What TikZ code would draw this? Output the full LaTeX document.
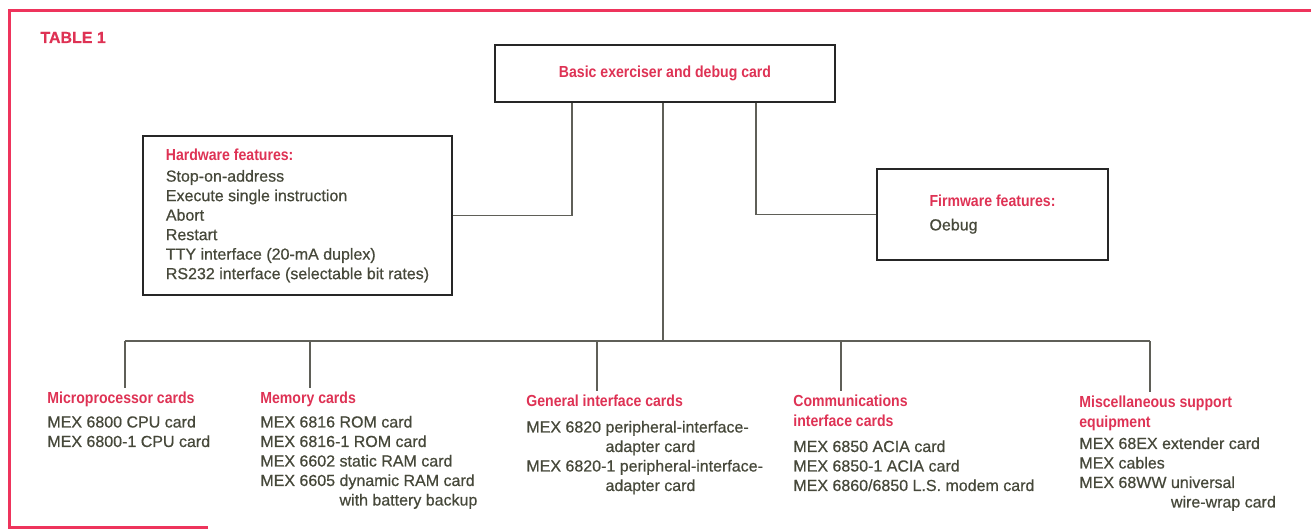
\documentclass[tikz,border=0pt]{standalone}
\usepackage{fontspec}
\usepackage{tikz}
\setmainfont{Liberation Sans}[FakeBold=0.6]
\newfontfamily\headfont[FakeStretch=0.88]{Liberation Sans}
\definecolor{framered}{RGB}{238,52,92}
\definecolor{headred}{RGB}{222,50,84}
\definecolor{inkgrey}{RGB}{70,72,58}
\definecolor{wiregrey}{RGB}{95,95,88}
\newcommand{\grouptitle}[1]{{\headfont\bfseries\color{headred}#1}}

\begin{document}
\begin{tikzpicture}[x=0.5pt,y=-0.5pt,
  every node/.style={font=\fontsize{8}{9.75}\selectfont,text=inkgrey,inner sep=0pt},
  featbox/.style={draw=black!85,line width=1pt,align=left},
  cardgroup/.style={anchor=north west,align=left},
  wire/.style={draw=wiregrey,line width=0.7pt}]
  \useasboundingbox (0,0) rectangle (1311,529);
  \draw[framered,line width=1.5pt] (208,527) -- (9,527) -- (9,11) -- (1311,11);
  \node[anchor=base west] (tbl) at (40,43) {\bfseries\color{headred}TABLE 1};

  \node[featbox,minimum width=170pt,minimum height=28.5pt] (top) at (665,73.5)
    {\grouptitle{Basic exerciser and debug card}};
  \node[featbox,minimum width=154.5pt,minimum height=79.5pt] (hw) at (297.5,215.5)
    {\grouptitle{Hardware features:}\\[1pt]
     Stop-on-address\\Execute single instruction\\Abort\\Restart\\
     TTY interface (20-mA duplex)\\RS232 interface (selectable bit rates)};
  \node[featbox,minimum width=115.5pt,minimum height=45.5pt] (fw) at (992.5,214.5)
    {\grouptitle{Firmware features:}\\[2pt]Oebug};

  \node[cardgroup] (micro) at (47,392)
    {\grouptitle{Microprocessor cards}\\[2pt]
     MEX 6800 CPU card\\MEX 6800-1 CPU card};
  \node[cardgroup] (mem) at (260,392)
    {\grouptitle{Memory cards}\\[2pt]
     MEX 6816 ROM card\\MEX 6816-1 ROM card\\MEX 6602 static RAM card\\
     MEX 6605 dynamic RAM card\\\hphantom{MEX 6605 }with battery backup};
  \node[cardgroup] (gen) at (526,395)
    {\grouptitle{General interface cards}\\[3pt]
     MEX 6820 peripheral-interface-\\\hphantom{MEX 6820 }adapter card\\
     MEX 6820-1 peripheral-interface-\\\hphantom{MEX 6820 }adapter card};
  \node[cardgroup] (comm) at (793,395)
    {\grouptitle{Communications}\\\grouptitle{interface cards}\\[3pt]
     MEX 6850 ACIA card\\MEX 6850-1 ACIA card\\MEX 6860/6850 L.S. modem card};
  \node[cardgroup] (misc) at (1079,396)
    {\grouptitle{Miscellaneous support}\\\grouptitle{equipment}\\[1pt]
     MEX 68EX extender card\\MEX cables\\MEX 68WW universal\\
     \hphantom{MEX 68WW }wire-wrap card};

  \coordinate (hwtap) at (572,0);
  \coordinate (fwtap) at (756,0);
  \coordinate (mid) at (663,341);
  \draw[wire] (top.south -| hwtap) |- (hw.east);
  \draw[wire] (top.south -| fwtap) |- (fw.west);
  \draw[wire] (top.south -| mid) -- (mid);
  \foreach \n/\x in {micro/125,mem/310,gen/597,comm/841,misc/1150} {
    \coordinate (bus\n) at (\x,341);
    \draw[wire,shorten >=2pt] (bus\n) -- (bus\n |- \n.north);
  }
  \draw[wire] (busmicro) -- (busmisc);
\end{tikzpicture}
\end{document}
